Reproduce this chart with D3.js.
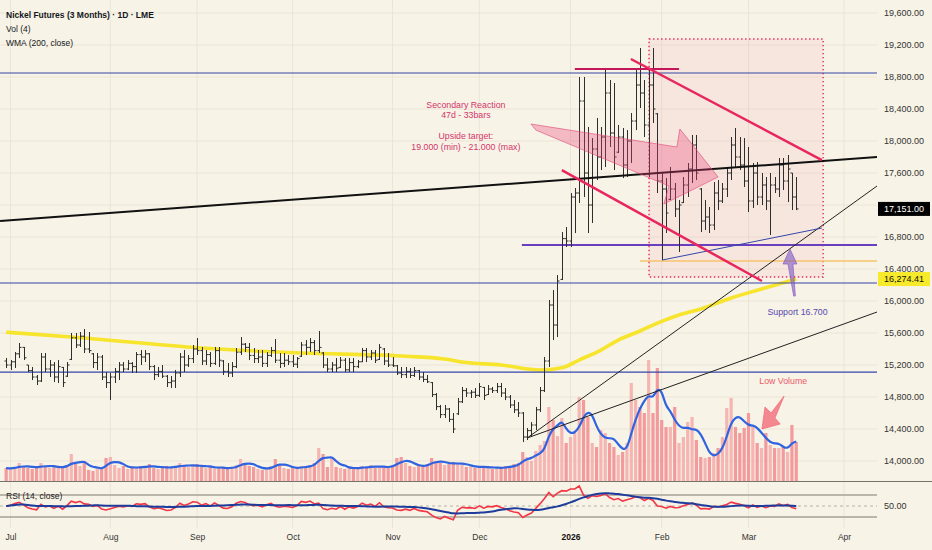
<!DOCTYPE html>
<html>
<head>
<meta charset="utf-8">
<script src="https://cdn.jsdelivr.net/npm/d3@7"></script>
<style>
  body { margin: 0; background: #f7f3e6; }
  svg { display: block; }
</style>
</head>
<body>
<script>
const width = 932
const height = 550
const plotRight = 877
const priceBottom = 481
const FONT = '"Liberation Sans", Arial, sans-serif'

// ---- data (bar index 0 = 30 Jun 2025, daily LME bars) ----
const opens = [
  15250,15200,15240,15340,15420,15200,15130,15050,15000,15300,
  15150,15200,15050,15170,15060,15270,15540,15450,15560,15400,
  15340,15230,15300,15050,14980,15050,15120,15200,15150,15220,
  15180,15330,15300,15340,15180,15080,15120,15060,14980,15000,
  15100,15300,15200,15280,15400,15380,15250,15330,15220,15380,
  15250,15120,15100,15180,15360,15460,15420,15320,15280,15300,
  15220,15320,15380,15260,15220,15260,15240,15210,15310,15450,
  15420,15480,15380,15350,15200,15150,15200,15170,15260,15140,
  15230,15180,15240,15380,15300,15350,15270,15400,15250,15200,
  15190,15100,15080,15120,15070,15130,15050,15020,14980,14830,
  14680,14580,14650,14520,14590,14740,14880,14850,14860,14820,
  14920,14830,14900,14880,14930,14850,14800,14700,14640,14600,
  14300,14380,14450,14640,14880,15250,15950,15700,16270,16780,
  16750,17300,17350,18500,17600,17200,17900,17800,18050,18600,
  18100,17860,18050,17700,18000,18250,18700,18600,18200,18700,
  18340,17500,17400,17270,17400,17150,17230,17450,17650,17950,
  17400,17000,17050,16950,17350,17250,17400,17600,17950,17800,
  17700,17500,17250,17600,17300,17450,17250,17450,17400,17700,
  17500,17600,17300
]
const highs = [
  15287,15262,15362,15475,15425,15200,15175,15075,15350,15350,
  15262,15237,15262,15175,15237,15600,15600,15612,15650,15612,
  15350,15350,15325,15112,15100,15162,15237,15237,15262,15237,
  15362,15387,15387,15350,15200,15175,15200,15075,15062,15137,
  15350,15387,15325,15450,15537,15425,15387,15362,15425,15425,
  15262,15225,15237,15412,15550,15475,15475,15412,15387,15387,
  15362,15425,15525,15350,15350,15325,15325,15300,15487,15512,
  15537,15512,15625,15362,15287,15237,15287,15300,15287,15287,
  15287,15262,15412,15412,15387,15387,15462,15412,15350,15300,
  15200,15175,15175,15162,15175,15137,15112,15075,14987,14850,
  14700,14700,14662,14600,14787,14925,14912,14887,14912,14975,
  14925,14950,14925,14975,14975,14912,14825,14762,14737,14612,
  14412,14487,14675,14925,15300,16012,16137,16325,16862,16925,
  17350,17412,18800,18800,18175,18037,18287,18175,18912,18762,
  18725,18200,18162,18137,18350,18887,19162,18762,18887,19162,
  18350,17612,17537,17675,17475,17262,17550,17725,18075,18075,
  17412,17262,17175,17487,17512,17475,17675,18050,18162,18050,
  18037,17925,17725,17737,17600,17550,17600,17550,17787,17787,
  17825,17600,17550
]
const lows = [
  15162,15137,15162,15287,15262,15112,15012,14950,14987,15112,
  15050,14987,14975,14925,15050,15262,15412,15425,15350,15350,
  15162,15137,15012,14912,14762,14975,15012,15112,15137,15100,
  15100,15200,15237,15137,15012,15050,15037,14925,14912,14912,
  15050,15112,15175,15225,15325,15200,15200,15175,15200,15175,
  15075,15050,15050,15162,15325,15362,15262,15225,15225,15175,
  15175,15300,15225,15162,15175,15200,15175,15162,15300,15325,
  15362,15325,15350,15162,15112,15112,15112,15162,15112,15112,
  15112,15162,15237,15237,15262,15225,15262,15200,15175,15175,
  15075,15037,15037,15037,15050,15012,14987,14975,14800,14637,
  14537,14537,14487,14350,14575,14725,14800,14787,14787,14800,
  14762,14825,14850,14850,14800,14762,14662,14600,14550,14237,
  14262,14300,14387,14612,14862,15175,15512,15550,16262,16675,
  16675,16850,17225,17300,16850,16975,17512,17637,17675,17925,
  17637,17850,17537,17550,17725,18137,18412,18050,17550,18225,
  17350,16512,16850,17262,17050,16612,17225,17300,17475,17512,
  16862,16887,16850,16887,17137,17225,17300,17512,17675,17637,
  17425,17112,17162,17200,17200,17137,16825,17350,17300,17387,
  17237,17137,17137
]
const closes = [
  15200,15240,15340,15420,15290,15130,15050,15000,15300,15150,
  15200,15050,15180,14980,15200,15540,15450,15560,15400,15380,
  15230,15300,15050,14980,15050,15120,15200,15150,15220,15180,
  15330,15300,15340,15180,15080,15120,15060,14980,15000,15100,
  15300,15200,15280,15400,15380,15250,15330,15220,15380,15260,
  15120,15100,15180,15360,15460,15420,15320,15280,15300,15220,
  15320,15380,15260,15220,15260,15240,15210,15280,15450,15420,
  15480,15380,15420,15200,15150,15200,15160,15260,15140,15230,
  15180,15240,15380,15300,15350,15260,15420,15250,15200,15190,
  15100,15080,15120,15070,15130,15050,15020,14990,14830,14680,
  14580,14650,14520,14400,14740,14880,14850,14860,14820,14930,
  14820,14900,14880,14930,14850,14800,14700,14640,14600,14300,
  14380,14450,14640,14880,15250,15950,15700,16250,16780,16750,
  17300,17350,18500,17600,17200,17900,17800,18050,18600,18100,
  17800,18050,17700,18000,18250,18700,18600,18200,18700,18400,
  17500,17400,17100,17400,17150,17200,17450,17650,17950,17600,
  17000,17050,16950,17350,17250,17400,17600,17950,17800,17700,
  17500,17250,17600,17300,17450,17250,17450,17400,17700,17500,
  17650,17300,17151
]
const volumes = [
  650,600,700,900,700,650,600,750,900,700,
  650,750,700,650,800,1350,850,750,1000,550,
  500,700,650,1150,1200,800,650,750,600,700,
  650,750,700,850,650,600,700,750,650,700,
  900,800,700,750,850,700,650,750,600,700,
  650,600,700,800,1100,850,750,700,600,550,
  650,750,1100,800,650,600,700,650,750,700,
  800,900,1650,1350,700,1200,700,650,600,700,
  650,600,750,700,800,650,700,750,650,800,
  1150,1200,900,750,700,800,750,850,1150,1000,
  900,800,850,950,900,800,700,750,650,700,
  750,650,600,700,650,750,700,850,900,1450,
  1200,1000,1500,1800,2000,3700,3050,2250,3150,1900,
  2200,2400,4200,4050,3200,1900,1700,2550,2400,1900,
  1700,1300,1450,1900,4900,4050,3700,3400,6050,3400,
  5650,3050,2700,2700,3700,1900,2200,2950,3200,2050,
  1200,1150,1200,1400,1650,2200,3650,4150,2700,2400,
  2650,3400,2700,1900,1650,2400,1800,1650,1650,1700,
  1450,2800,1950
]

// WMA(200) at a handful of bars
const wmaBars = [0, 15, 45, 68, 91, 101, 105, 114, 123, 128, 132, 137, 141, 146, 151, 155, 160, 167, 174, 182]
const wmaValues = [15610, 15550, 15412, 15350, 15312, 15275, 15237, 15200, 15137, 15165, 15262, 15387, 15512, 15625, 15745, 15825, 15900, 16037, 16150, 16274.41]

const monthLabels = ['Jul', 'Aug', 'Sep', 'Oct', 'Nov', 'Dec', '2026', 'Feb', 'Mar', 'Apr']
const monthBars = [1, 24, 44, 66, 89, 109, 130, 151, 171, 193]
const priceTicks = [14000, 14400, 14800, 15200, 15600, 16000, 16400, 16800, 17200, 17600, 18000, 18400, 18800, 19200, 19600]
const priceTickLabels = priceTicks.filter(d => d !== 17200)

// ---- drawings, in [bar, price] ----
const levelLines = [18850, 16225, 15112]
const supportLine = [[118.8, 16700], [205, 16700]]
const orangeLine = [[146, 16500], [205, 16500]]
const topLine = [[131, 18900], [155, 18900]]
const zoneBox = [[148.1, 19275], [188.2, 16300]]
const channelUpper = [[143.9, 19025], [187.9, 17762]]
const channelLower = [[128, 17637], [174.1, 16250]]
const longTrend = [[-1.4, 17000], [200.6, 17800]]
const fanSteep = [[120, 14287], [200.6, 17437]]
const fanFlat = [[120, 14287], [200.6, 15862]]
const febRise = [[151.1, 16512], [187.9, 16912]]
const reactionArrow = [[120.9, 18212], [154.5, 17925], [155.2, 18150], [164, 17550], [151.5, 17212], [152.7, 17437], [122, 18137]]
const supportArrow = [[180.56, 16650], [182.17, 16462], [181.25, 16462], [181.8, 16062], [181.4, 16062], [180.1, 16462], [178.95, 16462]]
const lowVolArrow = [[174.1, 14400], [174.8, 14675], [176.2, 14600], [179.2, 14812], [177.1, 14537], [178.3, 14462]]
const reactionText = ['Secondary Reaction', '47d - 33bars', '', 'Upside target:', '19.000 (min) - 21.000 (max)']
const reactionAt = [105.9, 18450]
const supportAt = [182.3, 15862]
const lowVolAt = [179, 15000]

const colors = {
  background: '#f7f3e6',
  grid: '#ebe5d5',
  bars: '#2e2e2e',
  volDown: '#f29a9c',
  volUp: '#f5b6b3',
  volMa: '#2f63e0',
  wma: '#f7e42c',
  level: '#3446a8',
  support: '#6a3fbf',
  orange: '#f6c36b',
  pink: '#e8265f',
  magenta: '#c2185b',
  text: '#d6336c',
  rsi: '#f23645',
  rsiMa: '#1e3c9c'
}

// ---- scales ----
const x = d3.scaleLinear().domain([1, 193]).range([10.5, 844])
const y = d3.scaleLinear().domain([14000, 19600]).range([461, 13])
const yVol = d3.scaleLinear().domain([0, 7000]).range([priceBottom, 341])
const yRsi = d3.scaleLinear().domain([30, 70]).range([517, 495])
const pt = d => [x(d[0]), y(d[1])]

// ---- indicators ----
const sma = (vals, n) => vals.map((v, i) => {
  const w = vals.slice(Math.max(0, i - n + 1), i + 1).filter(a => a != null)
  return d3.mean(w)
})

const rsi = (vals, n) => {
  let ag = 60, al = 60
  const out = [50]
  for (let i = 1; i < vals.length; i++) {
    const d = vals[i] - vals[i - 1]
    ag = (ag * (n - 1) + Math.max(d, 0)) / n
    al = (al * (n - 1) + Math.max(-d, 0)) / n
    out.push(100 - 100 / (1 + ag / al))
  }
  return out
}

const volMa = sma(volumes, 4)
const rsiValues = rsi(closes, 14)
const rsiMa = sma(rsiValues, 14)

// ---- svg ----
const svg = d3.select('body').append('svg')
  .attr('width', width)
  .attr('height', height)
  .style('font-family', FONT)

svg.append('rect').attr('width', width).attr('height', height).attr('fill', colors.background)

const defs = svg.append('defs')
defs.append('clipPath').attr('id', 'price-clip')
  .append('rect').attr('x', 0).attr('y', 0).attr('width', plotRight).attr('height', priceBottom)
defs.append('clipPath').attr('id', 'rsi-clip')
  .append('rect').attr('x', 0).attr('y', priceBottom + 1).attr('width', plotRight).attr('height', 46)

// grid
const grid = svg.append('g').attr('stroke', colors.grid).attr('stroke-width', 1)
grid.selectAll('.vgrid').data(monthBars).join('line')
  .attr('x1', d => x(d)).attr('x2', d => x(d))
  .attr('y1', 0).attr('y2', 528)
grid.selectAll('.hgrid').data(priceTicks).join('line')
  .attr('x1', 0).attr('x2', plotRight)
  .attr('y1', d => y(d)).attr('y2', d => y(d))

const plot = svg.append('g').attr('clip-path', 'url(#price-clip)')

// volume
plot.append('g').selectAll('rect').data(volumes).join('rect')
  .attr('x', (v, i) => x(i) - 1.6)
  .attr('width', 3.2)
  .attr('y', v => yVol(v))
  .attr('height', v => priceBottom - yVol(v))
  .attr('fill', (v, i) => closes[i] >= opens[i] ? colors.volUp : colors.volDown)

plot.append('path')
  .datum(volMa)
  .attr('d', d3.line().x((v, i) => x(i)).y(v => yVol(v)).curve(d3.curveBasis))
  .attr('fill', 'none')
  .attr('stroke', colors.volMa)
  .attr('stroke-width', 2.2)

// WMA
plot.append('path')
  .datum(wmaBars.map((b, i) => [b, wmaValues[i]]))
  .attr('d', d3.line().x(d => x(d[0])).y(d => y(d[1])).curve(d3.curveMonotoneX))
  .attr('fill', 'none')
  .attr('stroke', colors.wma)
  .attr('stroke-width', 3.6)

// pink zone
plot.append('rect')
  .attr('x', x(zoneBox[0][0]))
  .attr('y', y(zoneBox[0][1]))
  .attr('width', x(zoneBox[1][0]) - x(zoneBox[0][0]))
  .attr('height', y(zoneBox[1][1]) - y(zoneBox[0][1]))
  .attr('fill', colors.pink)
  .attr('fill-opacity', 0.06)
  .attr('stroke', colors.pink)
  .attr('stroke-width', 1.4)
  .attr('stroke-dasharray', '1.4,2.6')

// level lines
plot.append('g').selectAll('line').data(levelLines).join('line')
  .attr('x1', 0).attr('x2', plotRight)
  .attr('y1', d => y(d)).attr('y2', d => y(d))
  .attr('stroke', colors.level)
  .attr('stroke-width', 1.2)

const segment = (pts, color, w) => plot.append('path')
  .attr('d', d3.line()(pts.map(pt)))
  .attr('fill', 'none')
  .attr('stroke', color)
  .attr('stroke-width', w)

segment(orangeLine, colors.orange, 1.5)
segment(supportLine, colors.support, 2)

// OHLC bars
plot.append('g')
  .attr('stroke', colors.bars)
  .attr('stroke-width', 1)
  .selectAll('path').data(closes).join('path')
  .attr('d', (c, i) => {
    const cx = Math.round(x(i)) + 0.5
    return `M${cx},${y(highs[i])}V${y(lows[i])}M${cx - 2},${y(opens[i])}H${cx}M${cx},${y(c)}H${cx + 2}`
  })

// trend lines
segment(longTrend, '#111', 2)
segment(fanSteep, '#222', 1)
segment(fanFlat, '#222', 1)
segment(febRise, colors.level, 1)
segment(topLine, colors.magenta, 2)
segment(channelUpper, colors.pink, 2.5)
segment(channelLower, colors.pink, 2.5)

// arrows
const polygon = (pts, fill, stroke, op) => plot.append('path')
  .attr('d', d3.line()(pts.map(pt)) + 'Z')
  .attr('fill', fill)
  .attr('fill-opacity', op)
  .attr('stroke', stroke)
  .attr('stroke-opacity', 0.6)
  .attr('stroke-width', 1)
  .attr('stroke-linejoin', 'round')

polygon(reactionArrow, '#ec407a', '#e0457a', 0.32)
polygon(supportArrow, '#7e57c2', '#7e57c2', 0.6)
polygon(lowVolArrow, '#f25a6b', '#f25a6b', 0.7)

// annotation text
const notes = svg.append('g').attr('font-size', 8.8).attr('text-anchor', 'middle')
notes.append('g').attr('fill', colors.text)
  .selectAll('text').data(reactionText).join('text')
  .attr('x', x(reactionAt[0]))
  .attr('y', (d, i) => y(reactionAt[1]) + i * 10.4)
  .attr('dy', '0.35em')
  .text(d => d)
notes.append('text')
  .attr('x', x(supportAt[0])).attr('y', y(supportAt[1])).attr('dy', '0.35em')
  .attr('fill', '#5848b0')
  .text('Support 16.700')
notes.append('text')
  .attr('x', x(lowVolAt[0])).attr('y', y(lowVolAt[1])).attr('dy', '0.35em')
  .attr('fill', '#ec5a6b')
  .text('Low Volume')

// pane separator
svg.append('line')
  .attr('x1', 0).attr('x2', width)
  .attr('y1', priceBottom + 0.5).attr('y2', priceBottom + 0.5)
  .attr('stroke', '#77736b').attr('stroke-width', 1)

// RSI pane
const rsiPane = svg.append('g')
rsiPane.selectAll('.band').data([70, 30]).join('line')
  .attr('x1', 0).attr('x2', plotRight)
  .attr('y1', d => yRsi(d)).attr('y2', d => yRsi(d))
  .attr('stroke', '#a7a299').attr('stroke-width', 1.5)
rsiPane.append('line')
  .attr('x1', 0).attr('x2', plotRight)
  .attr('y1', yRsi(50)).attr('y2', yRsi(50))
  .attr('stroke', '#b8b3a8').attr('stroke-width', 1).attr('stroke-dasharray', '3,3')

const rsiPlot = rsiPane.append('g').attr('clip-path', 'url(#rsi-clip)')
rsiPlot.append('path')
  .datum(rsiValues)
  .attr('d', d3.line().x((v, i) => x(i)).y(v => yRsi(v)))
  .attr('fill', 'none').attr('stroke', colors.rsi).attr('stroke-width', 1.6)
rsiPlot.append('path')
  .datum(rsiMa)
  .attr('d', d3.line().x((v, i) => x(i)).y(v => yRsi(v)).curve(d3.curveBasis))
  .attr('fill', 'none').attr('stroke', colors.rsiMa).attr('stroke-width', 2)

svg.append('text')
  .attr('x', 6).attr('y', 496).attr('dy', '0.35em')
  .attr('font-size', 8.5).attr('fill', '#222')
  .text('RSI (14, close)')

// axes
const styleAxis = g => {
  g.select('.domain').remove()
  g.attr('font-family', FONT).attr('font-size', 9)
  g.selectAll('text').attr('fill', '#333')
}

svg.append('g')
  .attr('transform', `translate(${plotRight},0)`)
  .call(d3.axisRight(y).tickValues(priceTickLabels).tickFormat(d3.format(',.2f')).tickSize(0).tickPadding(7))
  .call(styleAxis)

svg.append('g')
  .attr('transform', `translate(${plotRight},0)`)
  .call(d3.axisRight(yRsi).tickValues([50]).tickFormat(d3.format('.2f')).tickSize(0).tickPadding(7))
  .call(styleAxis)

svg.append('g')
  .attr('transform', 'translate(0,531)')
  .call(d3.axisBottom(x).tickValues(monthBars).tickFormat((d, i) => monthLabels[i]).tickSize(0).tickPadding(3))
  .call(styleAxis)
  .call(g => g.attr('font-size', 8.5))
  .call(g => g.selectAll('text').filter(d => d === 130).attr('font-weight', 'bold').attr('fill', '#111'))

// last price / WMA labels
const tags = [
  { value: closes[closes.length - 1], fill: '#000', color: '#fff' },
  { value: wmaValues[wmaValues.length - 1], fill: '#f7ea2a', color: '#111' }
]
const tag = svg.append('g').selectAll('g').data(tags).join('g')
  .attr('transform', d => `translate(${plotRight + 1},${y(d.value)})`)
tag.append('rect')
  .attr('x', 0).attr('y', -7).attr('width', 52).attr('height', 14)
  .attr('fill', d => d.fill)
tag.append('text')
  .attr('x', 26).attr('dy', '0.35em')
  .attr('text-anchor', 'middle')
  .attr('font-size', 9)
  .attr('fill', d => d.color)
  .text(d => d3.format(',.2f')(d.value))

// legend
const legend = svg.append('g').attr('font-size', 8.5).attr('fill', '#131722')
legend.append('text').attr('x', 6).attr('y', 17.5).attr('font-weight', 'bold').text('Nickel Futures (3 Months) · 1D · LME')
legend.append('text').attr('x', 6).attr('y', 32).text('Vol (4)')
legend.append('text').attr('x', 6).attr('y', 46).text('WMA (200, close)')
</script>
</body>
</html>
